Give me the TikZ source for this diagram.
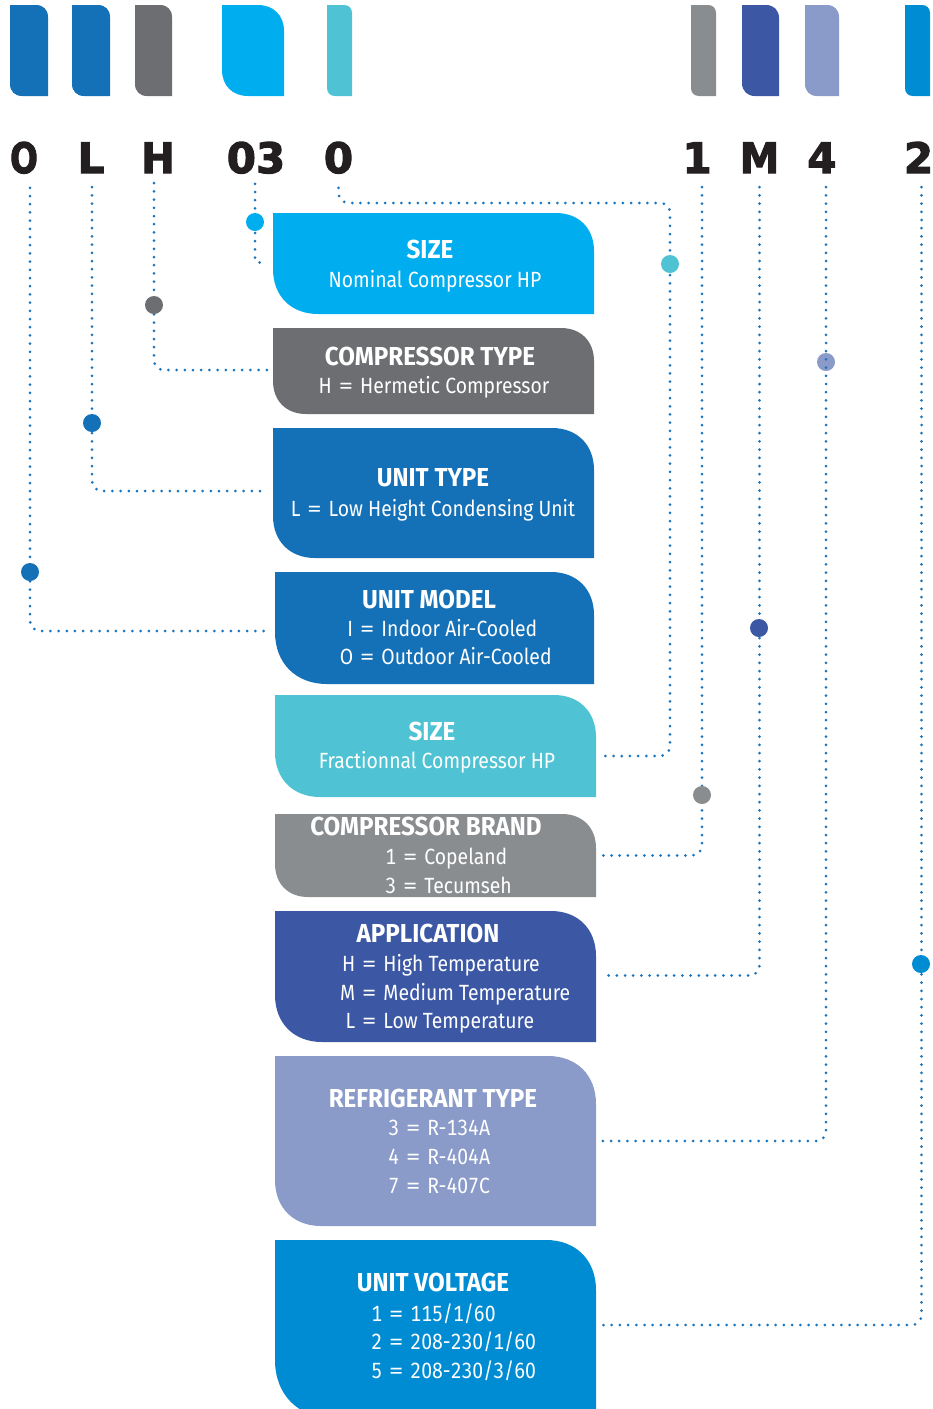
\documentclass[tikz,border=0pt]{standalone}
\usepackage{fontspec}
\setmainfont{Fira Sans}[FakeStretch=0.88, Numbers=Monospaced]
\newfontfamily\titlefont{Fira Sans}[FakeStretch=0.93]
\newfontfamily\heavyfont{DejaVu Sans Bold}[FakeBold=2.6]
\definecolor{cBlue}{RGB}{20,112,183}
\definecolor{cGray}{RGB}{109,110,113}
\definecolor{cCyan}{RGB}{0,174,239}
\definecolor{cTeal}{RGB}{79,195,212}
\definecolor{cGrayB}{RGB}{138,141,144}
\definecolor{cDark}{RGB}{60,88,165}
\definecolor{cLav}{RGB}{139,155,201}
\definecolor{cBlueB}{RGB}{0,140,211}
\definecolor{cDot}{RGB}{28,117,188}
\definecolor{cCode}{RGB}{35,31,32}
% leaf shape: colour, x1, y1, x2, y2, top-right radius, bottom-left radius
\newcommand\leaf[7]{\fill[#1] (#2,#3) -- ({#4-#6},#3) .. controls ({#4-0.4*#6},#3) and (#4,{#3+0.4*#6}) .. (#4,{#3+#6}) -- (#4,#5) -- ({#2+#7},#5) .. controls ({#2+0.4*#7},#5) and (#2,{#5-0.4*#7}) .. (#2,{#5-#7}) -- cycle;}
\newcommand\tagbox[8]{\leaf{#2}{#3}{#4}{#5}{#6}{#7}{#8}\node[frame, minimum width={(#5-#3)*1pt}, minimum height={(#6-#4)*1pt}, anchor=north west] (#1) at (#3,#4) {};}
\newcommand\eqs{\hspace{6pt}\scalebox{1.5}[1]{=}\hspace{6pt}}
\newcommand\kv[2]{\makebox[16pt][r]{#1}\eqs#2}
\newcommand\cw[2]{\scalebox{#1}[1]{#2}}
\begin{document}
\begin{tikzpicture}[x=1pt,y=-1pt,
  dotline/.style={line width=3pt, draw=cDot, line cap=round, dash pattern=on 0pt off 8.2pt, rounded corners=10pt},
  marker/.style={circle, fill=#1, inner sep=0pt, minimum size=18pt},
  code/.style={font=\heavyfont\fontsize{42}{42}\selectfont, text=cCode, inner sep=0pt, anchor=base},
  ttl/.style={font=\titlefont\bfseries\fontsize{26}{30}\selectfont, text=white, inner sep=0pt, anchor=base},
  bdy/.style={font=\fontsize{22}{26}\selectfont, text=white, inner sep=0pt, anchor=base},
  kvl/.style={bdy, anchor=base west},
  frame/.style={inner sep=0pt, outer sep=0pt, draw=none}
]
\useasboundingbox (0,0) rectangle (933,1409);
% top colour bars
\leaf{cBlue}{10}{5}{48}{96}{12}{12}
\leaf{cBlue}{72}{5}{110}{96}{12}{12}
\leaf{cGray}{135}{5}{172}{96}{12}{12}
\leaf{cCyan}{222}{5}{284}{96}{26}{26}
\leaf{cTeal}{327}{5}{352}{96}{8}{8}
\leaf{cGrayB}{691}{5}{716}{96}{8}{8}
\leaf{cDark}{742}{5}{779}{96}{13}{13}
\leaf{cLav}{805}{5}{839}{96}{12}{12}
\leaf{cBlueB}{905}{5}{930}{96}{8}{8}
% code characters
\node[code] (cO) at (24,173) {\cw{0.78}{O}};
\node[code] (cL) at (91,173) {L};
\node[code] (cH) at (158,173) {\cw{0.95}{H}};
\node[code] (c03) at (256,173) {03};
\node[code] (c0) at (338.5,173) {0};
\node[code] (c1) at (697,173) {1};
\node[code] (cM) at (759.5,173) {\cw{0.95}{M}};
\node[code] (c4) at (822,173) {4};
\node[code] (c2) at (918.5,173) {2};
% boxes
\tagbox{b1}{cCyan}{273}{213}{594}{314}{38}{45}
\tagbox{b2}{cGray}{273}{328}{594}{414}{33}{33}
\tagbox{b3}{cBlue}{273}{428}{594}{558}{42}{42}
\tagbox{b4}{cBlue}{275}{572}{594}{684}{43}{52}
\tagbox{b5}{cTeal}{275}{695}{596}{797}{42}{45}
\tagbox{b6}{cGrayB}{275}{814}{596}{897}{34}{33}
\tagbox{b7}{cDark}{275}{911}{596}{1042}{45}{47}
\tagbox{b8}{cLav}{275}{1056}{596}{1226}{48}{46}
\tagbox{b9}{cBlueB}{275}{1240}{596}{1418}{50}{58}
% box texts
\node[ttl] (t1) at (430,258) {SIZE};
\node[bdy] (s1) at (435,287) {Nominal Compressor HP};
\node[ttl] (t2) at (430,365) {COMPRESSOR TYPE};
\node[bdy] (s2) at (434,393) {H\eqs Hermetic Compressor};
\node[ttl] (t3) at (433,486) {UNIT TYPE};
\node[bdy] (s3) at (433,516) {L\eqs Low Height Condensing Unit};
\node[ttl] (t4) at (429,608) {UNIT MODEL};
\node[kvl] (s4a) at (337,636) {\kv{I}{Indoor Air-Cooled}};
\node[kvl] (s4b) at (337,664) {\kv{O}{Outdoor Air-Cooled}};
\node[ttl] (t5) at (432,740) {SIZE};
\node[bdy] (s5) at (437,768) {Fractionnal Compressor HP};
\node[ttl] (t6) at (426,835) {COMPRESSOR BRAND};
\node[kvl] (s6a) at (380,864) {\kv{1}{Copeland}};
\node[kvl] (s6b) at (380,893) {\kv{3}{Tecumseh}};
\node[ttl] (t7) at (428,942) {APPLICATION};
\node[kvl] (s7a) at (339,971) {\kv{H}{High Temperature}};
\node[kvl] (s7b) at (339,1000) {\kv{M}{Medium Temperature}};
\node[kvl] (s7c) at (339,1028) {\kv{L}{Low Temperature}};
\node[ttl] (t8) at (433,1107) {REFRIGERANT TYPE};
\node[kvl] (s8a) at (383,1135) {\kv{3}{R-134A}};
\node[kvl] (s8b) at (383,1164) {\kv{4}{R-404A}};
\node[kvl] (s8c) at (383,1193) {\kv{7}{R-407C}};
\node[ttl] (t9) at (433,1291) {UNIT VOLTAGE};
\node[kvl] (s9a) at (366,1321) {\kv{1}{115/1/60}};
\node[kvl] (s9b) at (366,1349) {\kv{2}{208-230/1/60}};
\node[kvl] (s9c) at (366,1378) {\kv{5}{208-230/3/60}};
% marker drawn under the connector through the "4"
\node[marker=cLav] (m4) at (826,362) {};
% connectors
\coordinate (k0) at (670,203);
\draw[dotline] ([xshift=6pt,yshift=-14pt]cO.south) |- ([xshift=-6pt,yshift=-3pt]b4.west);
\draw[dotline] ([xshift=1pt,yshift=-14pt]cL.south) |- ([xshift=-6pt,yshift=2pt]b3.west);
\draw[dotline] ([xshift=-4pt,yshift=-10pt]cH.south) |- ([xshift=-6pt,yshift=1pt]b2.west);
\draw[dotline, rounded corners=3pt] ([xshift=-1pt,yshift=-10pt]c03.south) |- ([xshift=-6pt,yshift=1pt]b1.west);
\draw[dotline] ([yshift=-14pt]c0.south) |- (k0) |- ([xshift=5pt,yshift=-10pt]b5.east);
\draw[dotline] ([xshift=5pt,yshift=-14pt]c1.south) |- ([xshift=5pt]b6.east);
\draw[dotline] ([yshift=-14pt]cM.south) |- ([xshift=5pt,yshift=1pt]b7.east);
\draw[dotline] ([xshift=4pt,yshift=-14pt]c4.south) |- ([xshift=5pt]b8.east);
\draw[dotline] ([xshift=3pt,yshift=-14pt]c2.south) |- ([xshift=5pt,yshift=4pt]b9.east);
% markers
\node[marker=cBlue] (mO) at (30,572) {};
\node[marker=cBlue] (mL) at (92,423) {};
\node[marker=cGray] (mH) at (154,305) {};
\node[marker=cCyan] (m03) at (255,222) {};
\node[marker=cTeal] (m0) at (670,264) {};
\node[marker=cGrayB] (m1) at (702,795) {};
\node[marker=cDark] (mM) at (759,628) {};
\node[marker=cBlueB] (m2) at (921,964) {};
\end{tikzpicture}
\end{document}
